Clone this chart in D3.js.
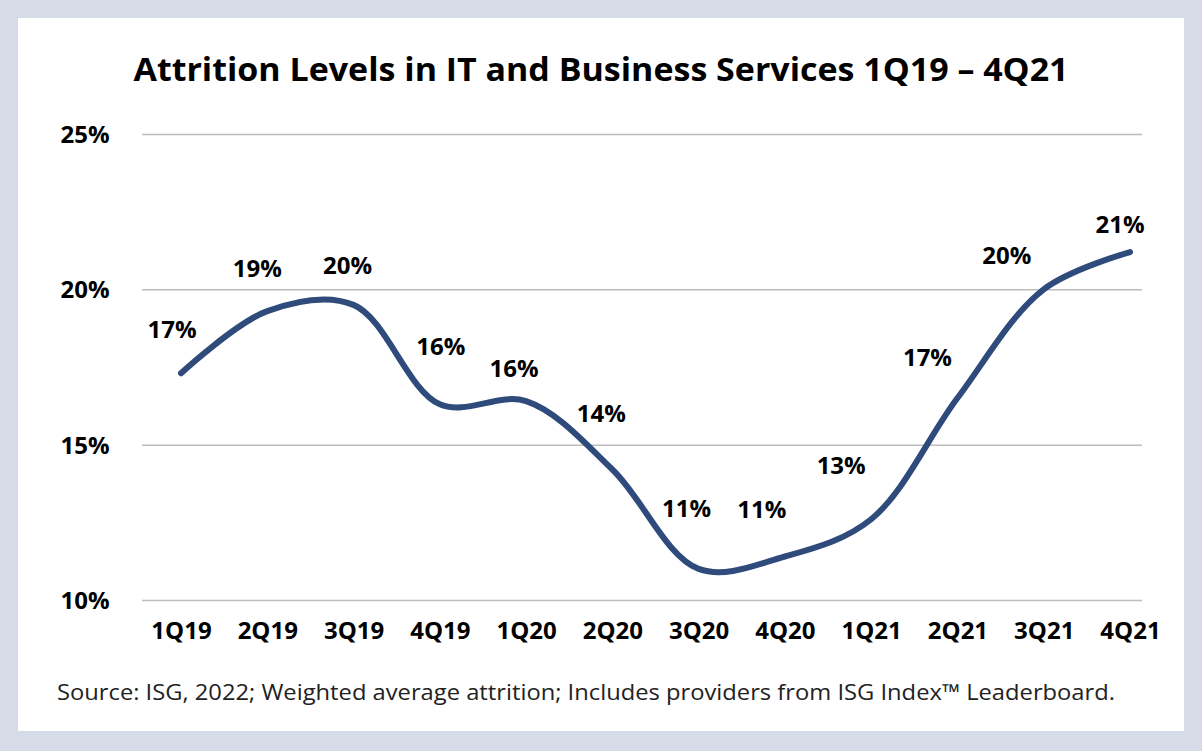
<!DOCTYPE html>
<html><head><meta charset="utf-8">
<script src="https://cdn.jsdelivr.net/npm/d3@7"></script>
<style>body{margin:0;background:#d6dce7}svg{display:block}</style>
</head><body><svg width="1202" height="751"></svg>
<script>
const quarters = ["1Q19","2Q19","3Q19","4Q19","1Q20","2Q20","3Q20","4Q20","1Q21","2Q21","3Q21","4Q21"];
const attrition = [17.3,19.3,19.5,16.3,16.4,14.2,11.0,11.4,12.6,16.5,20.0,21.2];
const labels = ["17%","19%","20%","16%","16%","14%","11%","11%","13%","17%","20%","21%"];
const labelDx = [-9,-10,-6,1,-12,-11,-12,-23,-30,-30,-37,-10];
const labelDy = [-44,-42,-39,-58,-33,-56,-60,-47,-54,-40,-34,-27];
const yTicks = [10,15,20,25];

const svg = d3.select("svg");
svg.append("rect").attr("x",18).attr("y",18).attr("width",1166).attr("height",713).attr("fill","#fff");

svg.append("text").attr("x",601).attr("y",81).attr("text-anchor","middle")
  .style("font-family","Open Sans").style("font-weight","bold").style("font-size","32px")
  .attr("textLength",935).attr("lengthAdjust","spacingAndGlyphs")
  .text("Attrition Levels in IT and Business Services 1Q19 – 4Q21");

const x = d3.scalePoint().domain(quarters).range([181,1130]);
const y = d3.scaleLinear().domain([10,25]).range([600,134]);

const yAxis = svg.append("g").attr("transform","translate(142,0)")
  .call(d3.axisRight(y).tickValues(yTicks).tickSize(1000).tickFormat(d => d + "%"));
yAxis.select(".domain").remove();
yAxis.selectAll("line").attr("stroke","#bdbdbd").attr("stroke-width",1.5);
yAxis.selectAll("text").attr("text-anchor","middle").attr("x",-57).attr("dy","0.35em")
  .style("font-family","Open Sans").style("font-weight","bold").style("font-size","24px").attr("fill","#000");

const xAxis = svg.append("g").attr("transform","translate(0,600)")
  .call(d3.axisBottom(x).tickSize(0).tickPadding(22));
xAxis.select(".domain").remove();
xAxis.selectAll("text").style("font-family","Open Sans").style("font-weight","bold")
  .style("font-size","24px").attr("fill","#000");

const line = d3.line().x((d,i) => x(quarters[i])).y(d => y(d)).curve(d3.curveCatmullRom.alpha(0.5));
svg.append("path").datum(attrition).attr("d",line).attr("fill","none")
  .attr("stroke","#2f4b7c").attr("stroke-width",6).attr("stroke-linecap","round");

svg.selectAll(".lbl").data(attrition).enter().append("text")
  .attr("x",(d,i) => x(quarters[i]) + labelDx[i])
  .attr("y",(d,i) => y(d) + labelDy[i]).attr("dy","0.35em").attr("text-anchor","middle")
  .style("font-family","Open Sans").style("font-weight","bold").style("font-size","24px")
  .text((d,i) => labels[i]);

svg.append("text").attr("x",57).attr("y",700)
  .style("font-family","Open Sans").style("font-size","22px").attr("fill","#222")
  .attr("textLength",1058).attr("lengthAdjust","spacingAndGlyphs")
  .text("Source: ISG, 2022; Weighted average attrition; Includes providers from ISG Index™ Leaderboard.");
</script></body></html>
